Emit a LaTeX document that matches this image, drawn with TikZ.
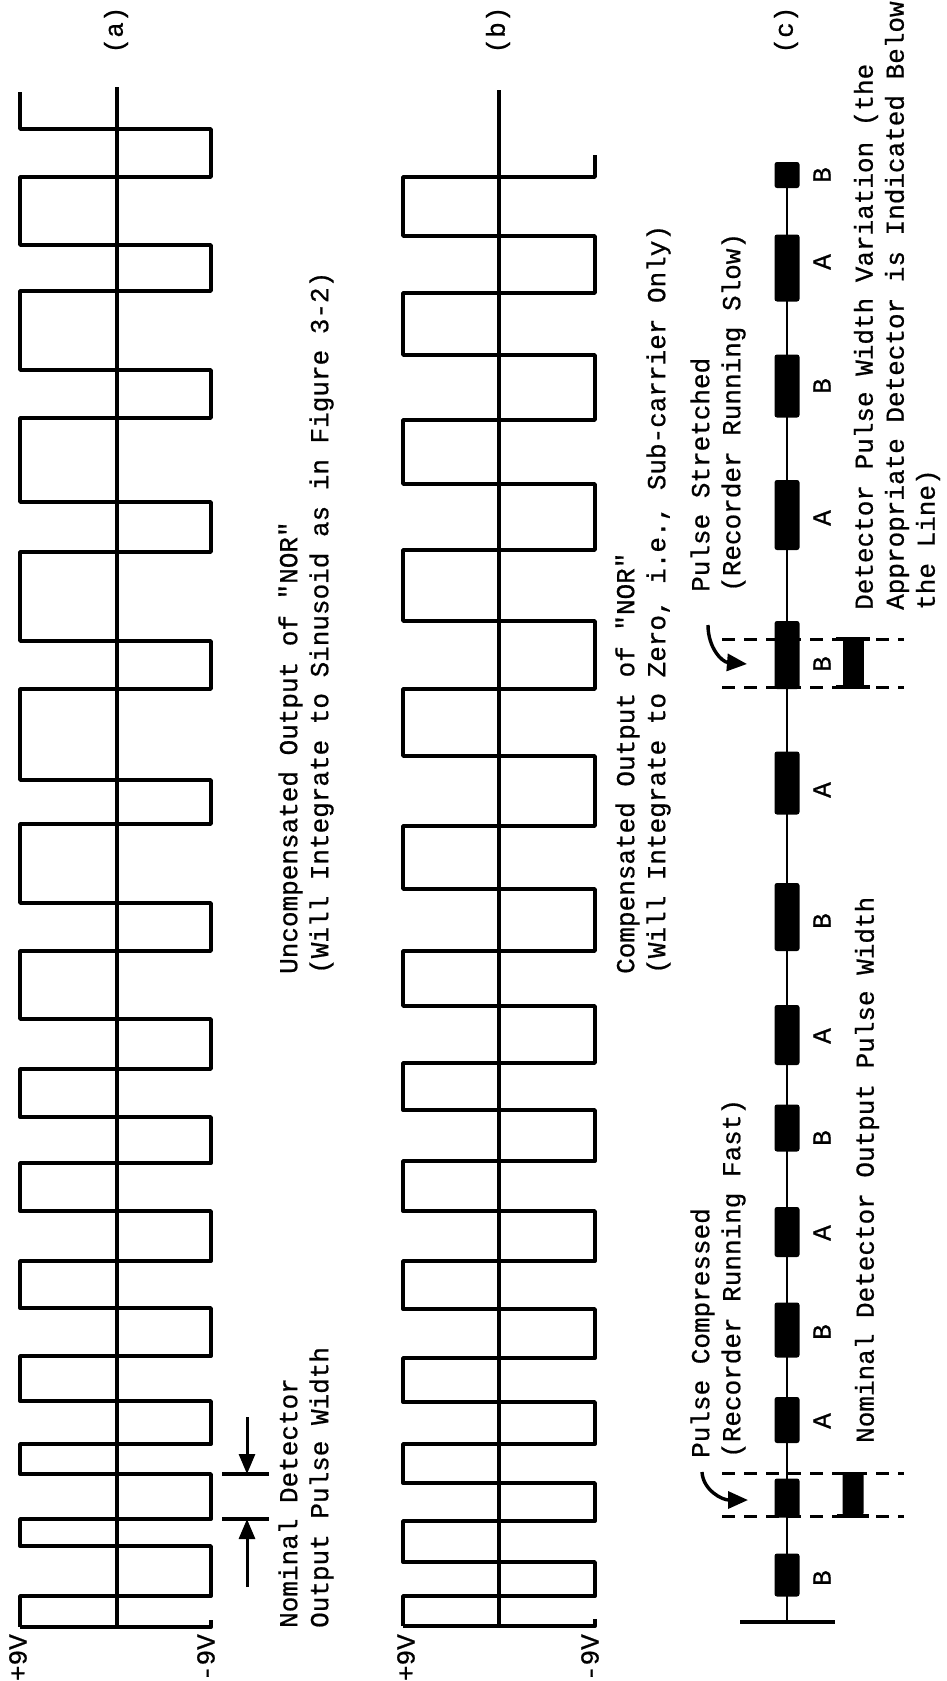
\documentclass[tikz,border=0pt]{standalone}
\usepackage{fontspec}
\setmonofont[FakeBold=0.7]{Liberation Mono}
\usetikzlibrary{arrows.meta}

\begin{document}
\begin{tikzpicture}
  [x=1pt, y=-1pt,
   every node/.style={font=\ttfamily\fontsize{26}{31}\selectfont, inner sep=0pt},
   lbl/.style={rotate=90, align=left},
   wave/.style={line width=3.8pt, line join=round},
   zero/.style={line width=3.2pt},
   pulse/.style={fill=black, rounded corners=2.5pt, minimum width=25pt},
   nominal/.style={fill=black, minimum width=21pt},
   guide/.style={dash pattern=on 13pt off 9pt, line width=3pt},
   pointer/.style={line width=3pt, -{Triangle[length=20pt,width=16pt]}},
   swing/.style={line width=3.4pt, -{Triangle[length=20pt,width=17pt]}}]

  \useasboundingbox (0,0) rectangle (947,1681);

  % (a) uncompensated
  \draw[zero] (117,87) coordinate (a top) -- (117,1627) coordinate (a bot);
  \draw[wave] (20,92) |- (211,129) |- (20,177) |- (211,245) |- (20,291)
    |- (211,370) |- (20,418) |- (211,502) |- (20,552) |- (211,641) |- (20,689)
    |- (211,780) |- (20,824) |- (211,903) |- (20,951) |- (211,1019) |- (20,1069)
    |- (211,1117) |- (20,1163) |- (211,1211) |- (20,1261) |- (211,1308)
    |- (20,1356) |- (211,1401) |- (20,1444) |- (211,1474) |- (20,1519)
    |- (211,1546) |- (20,1596) -- (20,1627) coordinate (a plus);
  \draw[wave] (a plus) -- (211,1627) coordinate (a minus) -- (211,1620);
  \node[lbl] (a name) at (116,30) {(a)};
  \node[lbl, anchor=east] (a pv) at (18,1634) {+9V};
  \node[lbl, anchor=east] (a mv) at (206,1634) {-9V};

  \draw[zero] (222,1474) coordinate (w1 l) -- (269,1474) coordinate (w1 r);
  \draw[zero] (222,1519) coordinate (w2 l) -- (269,1519) coordinate (w2 r);
  \coordinate (w1) at (247,1474);
  \coordinate (w2) at (247,1519);
  \draw[pointer] (247,1417) coordinate (w1 tail) -- (w1);
  \draw[pointer] (247,1587) coordinate (w2 tail) -- (w2);
  \node[lbl, anchor=west] (a width) at (306,1628)
    {Nominal Detector\\Output Pulse Width};
  \node[lbl, anchor=west] (a text) at (306,974)
    {Uncompensated Output of "NOR"\\(Will Integrate to Sinusoid as in Figure 3-2)};

  % (b) compensated
  \draw[zero] (499,90) coordinate (b top) -- (499,1626) coordinate (b bot);
  \draw[wave] (595,155) |- (403,177) |- (595,236) |- (403,293) |- (595,355)
    |- (403,420) |- (595,484) |- (403,550) |- (595,621) |- (403,689)
    |- (595,756) |- (403,826) |- (595,889) |- (403,951) |- (595,1006)
    |- (403,1063) |- (595,1110) |- (403,1161) |- (595,1211) |- (403,1261)
    |- (595,1309) |- (403,1358) |- (595,1402) |- (403,1444) |- (595,1483)
    |- (403,1521) |- (595,1562) |- (403,1596) -- (403,1626) coordinate (b plus);
  \draw[wave] (b plus) -- (595,1626) coordinate (b minus) -- (595,1619);
  \node[lbl] (b name) at (498,30) {(b)};
  \node[lbl, anchor=east] (b pv) at (406,1634) {+9V};
  \node[lbl, anchor=east] (b mv) at (590,1634) {-9V};
  \node[lbl, anchor=west] (b text) at (643,974)
    {Compensated Output of "NOR"\\(Will Integrate to Zero, i.e., Sub-carrier Only)};

  % (c) detector pulses
  \draw[guide] (722,639) coordinate (st g1) -- (904,639);
  \draw[guide] (722,687) coordinate (st g2) -- (904,687);
  \draw[guide] (722,1473) coordinate (cp g1) -- (904,1473);
  \draw[guide] (722,1516) coordinate (cp g2) -- (904,1516);

  \foreach \i/\yc/\h in {1/175/26, 2/268/67, 3/386/63, 4/515/70, 5/655/68,
      6/783/63, 7/917/68, 8/1035/60, 9/1128/47, 10/1232/50, 11/1330/55,
      12/1420/46, 13/1498/39, 14/1575/43}
    \node[pulse, minimum height=\h] (p\i) at (787,\yc) {};
  \draw[line width=3.6pt] (740,1622) coordinate (bar l) -- (835,1622) coordinate (bar r);
  \draw[line width=2.8pt] (787,1622) coordinate (c base) -- (p1);

  \foreach \i/\yc/\lab in {1/175/B, 2/262/A, 3/386/B, 4/518/A, 5/664/B,
      6/790/A, 7/921/B, 8/1036/A, 9/1138/B, 10/1233/A, 11/1332/B,
      12/1421/A, 14/1578/B}
    \node[lbl] (l\i) at (822,\yc) {\lab};

  \node[nominal, minimum height=48] (n st) at (853,663) {};
  \draw[line width=4pt] ([xshift=-6pt]n st.north west) -- ([xshift=6pt]n st.north east);
  \draw[line width=4pt] ([xshift=-6pt]n st.south west) -- ([xshift=6pt]n st.south east);
  \node[nominal, minimum height=44, rounded corners=3pt] (n cp) at (853,1494) {};
  \draw[line width=4pt] ([xshift=-5pt]n cp.south west) -- ([xshift=5pt]n cp.south east);

  \coordinate (st from) at (708,625);
  \coordinate (st to) at (747,664);
  \draw[swing] (st from) .. controls (708,648) and (722,662) .. (st to);
  \coordinate (cp from) at (702,1472);
  \coordinate (cp to) at (748,1500);
  \draw[swing] (cp from) .. controls (703,1490) and (722,1500) .. (cp to);

  \node[lbl] (c name) at (786,30) {(c)};
  \node[lbl, anchor=west] (st text) at (718,592)
    {Pulse Stretched\\(Recorder Running Slow)};
  \node[lbl, anchor=west] (cp text) at (718,1458)
    {Pulse Compressed\\(Recorder Running Fast)};
  \node[lbl, anchor=west] (c nominal) at (867,1443)
    {Nominal Detector Output Pulse Width};
  \node[lbl, anchor=west] (c text) at (897,610)
    {Detector Pulse Width Variation (the\\Appropriate Detector is Indicated Below\\ the Line)};
\end{tikzpicture}
\end{document}
